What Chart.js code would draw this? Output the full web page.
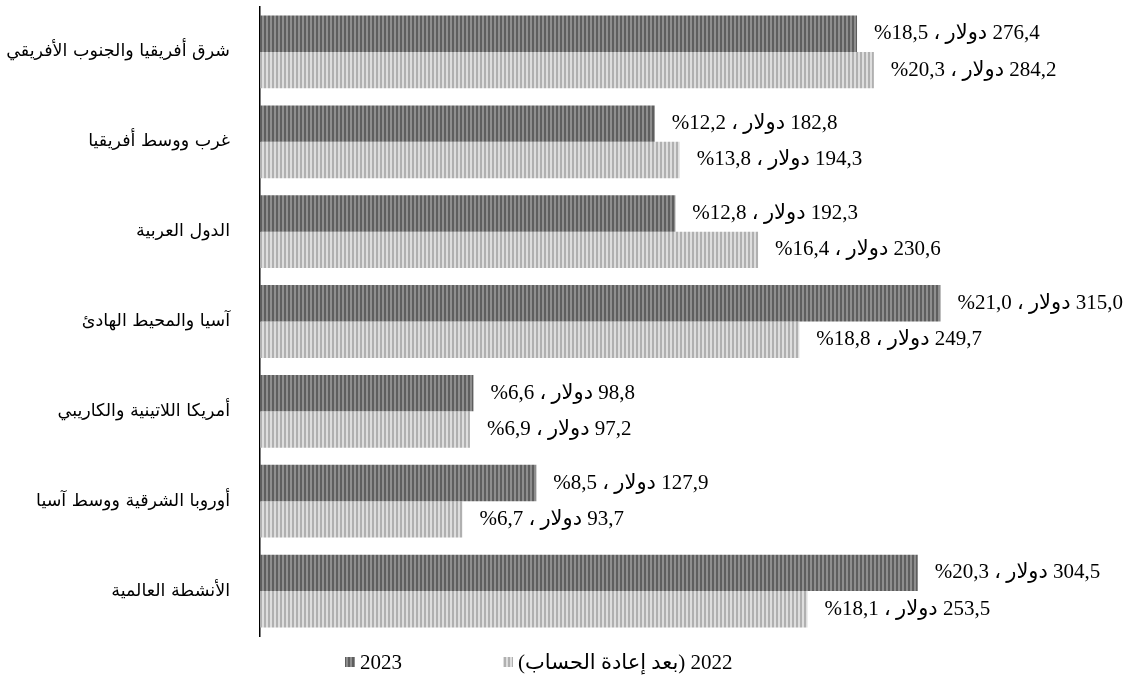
<!DOCTYPE html>
<html lang="ar">
<head>
<meta charset="utf-8">
<script src="https://cdn.jsdelivr.net/npm/chart.js@4"></script>
<style>
  body { margin: 0; background: #fff; }
</style>
</head>
<body>
<canvas id="chart" width="1135" height="677"></canvas>
<script>
// المناطق (من أعلى إلى أسفل)
const categories = [
    'شرق أفريقيا والجنوب الأفريقي',
    'غرب ووسط أفريقيا',
    'الدول العربية',
    'آسيا والمحيط الهادئ',
    'أمريكا اللاتينية والكاريبي',
    'أوروبا الشرقية ووسط آسيا',
    'الأنشطة العالمية'
];
const seriesNames = ['2023', '2022 (بعد إعادة الحساب)'];
const values2023 = [276.4, 182.8, 192.3, 315.0, 98.8, 127.9, 304.5];
const shares2023 = [18.5, 12.2, 12.8, 21.0, 6.6, 8.5, 20.3];
const values2022 = [284.2, 194.3, 230.6, 249.7, 97.2, 93.7, 253.5];
const shares2022 = [20.3, 13.8, 16.4, 18.8, 6.9, 6.7, 18.1];
const shares = [shares2023, shares2022];

// نمط خطوط عمودية
function stripes(c1, c2) {
    let p = document.createElement('canvas');
    p.width = 4;
    p.height = 4;
    let g = p.getContext('2d');
    g.fillStyle = c1;
    g.fillRect(0, 0, 2, 4);
    g.fillStyle = c2;
    g.fillRect(2, 0, 2, 4);
    return g.createPattern(p, 'repeat');
}
const darkPattern = stripes('#5e5e5e', '#8e8e8e');
const lightPattern = stripes('#b0b0b0', '#dedede');
const patterns = [darkPattern, lightPattern];

function fmt(v) {
    return v.toFixed(1).replace('.', ',');
}

// تسميات القيم بجانب الأعمدة
const valueLabels = {
    id: 'valueLabels',
    afterDatasetsDraw(chart) {
        let ctx = chart.ctx;
        ctx.save();
        ctx.direction = 'rtl';
        ctx.textAlign = 'left';
        ctx.textBaseline = 'middle';
        ctx.fillStyle = '#000';
        ctx.font = "21px 'Liberation Serif', 'DejaVu Sans', serif";
        chart.data.datasets.forEach((ds, i) => {
            chart.getDatasetMeta(i).data.forEach((bar, j) => {
                let text = fmt(ds.data[j]) + ' دولار ، ' + fmt(shares[i][j]) + '%';
                ctx.fillText(text, bar.x + 17, bar.y);
            });
        });
        ctx.restore();
    }
};

// وسيلة الإيضاح في الأسفل
const bottomLegend = {
    id: 'bottomLegend',
    afterDraw(chart) {
        let ctx = chart.ctx;
        let y = 662;
        let items = [{ x: 345, i: 0 }, { x: 503, i: 1 }];
        ctx.save();
        ctx.direction = 'rtl';
        ctx.textAlign = 'left';
        ctx.textBaseline = 'middle';
        ctx.font = "21px 'Liberation Serif', 'DejaVu Sans', serif";
        items.forEach(it => {
            ctx.fillStyle = patterns[it.i];
            ctx.fillRect(it.x, y - 5, 10, 10);
            ctx.fillStyle = '#000';
            ctx.fillText(seriesNames[it.i], it.x + 15, y + 1);
        });
        ctx.restore();
    }
};

let ctx = document.getElementById('chart').getContext('2d');
window.regionChart = new Chart(ctx, {
    type: 'bar',
    data: {
        labels: categories,
        datasets: [
            {
                label: seriesNames[0],
                data: values2023,
                backgroundColor: darkPattern,
                categoryPercentage: 0.81,
                barPercentage: 1
            },
            {
                label: seriesNames[1],
                data: values2022,
                backgroundColor: lightPattern,
                categoryPercentage: 0.81,
                barPercentage: 1
            }
        ]
    },
    options: {
        indexAxis: 'y',
        responsive: false,
        animation: false,
        layout: {
            padding: { top: 7, bottom: 41, right: 11, left: 0 }
        },
        scales: {
            x: {
                display: false,
                min: 0,
                max: 400
            },
            y: {
                grid: { display: false, drawTicks: false },
                border: { color: '#000', width: 1.5 },
                ticks: {
                    padding: 30,
                    color: '#000',
                    font: { family: "'DejaVu Sans', sans-serif", size: 17.5 }
                },
                afterFit: (scale) => {
                    scale.width = 260;
                    scale.paddingTop = 0;
                    scale.paddingBottom = 0;
                }
            }
        },
        plugins: {
            legend: { display: false },
            tooltip: { enabled: false }
        }
    },
    plugins: [valueLabels, bottomLegend]
});
</script>
</body>
</html>
